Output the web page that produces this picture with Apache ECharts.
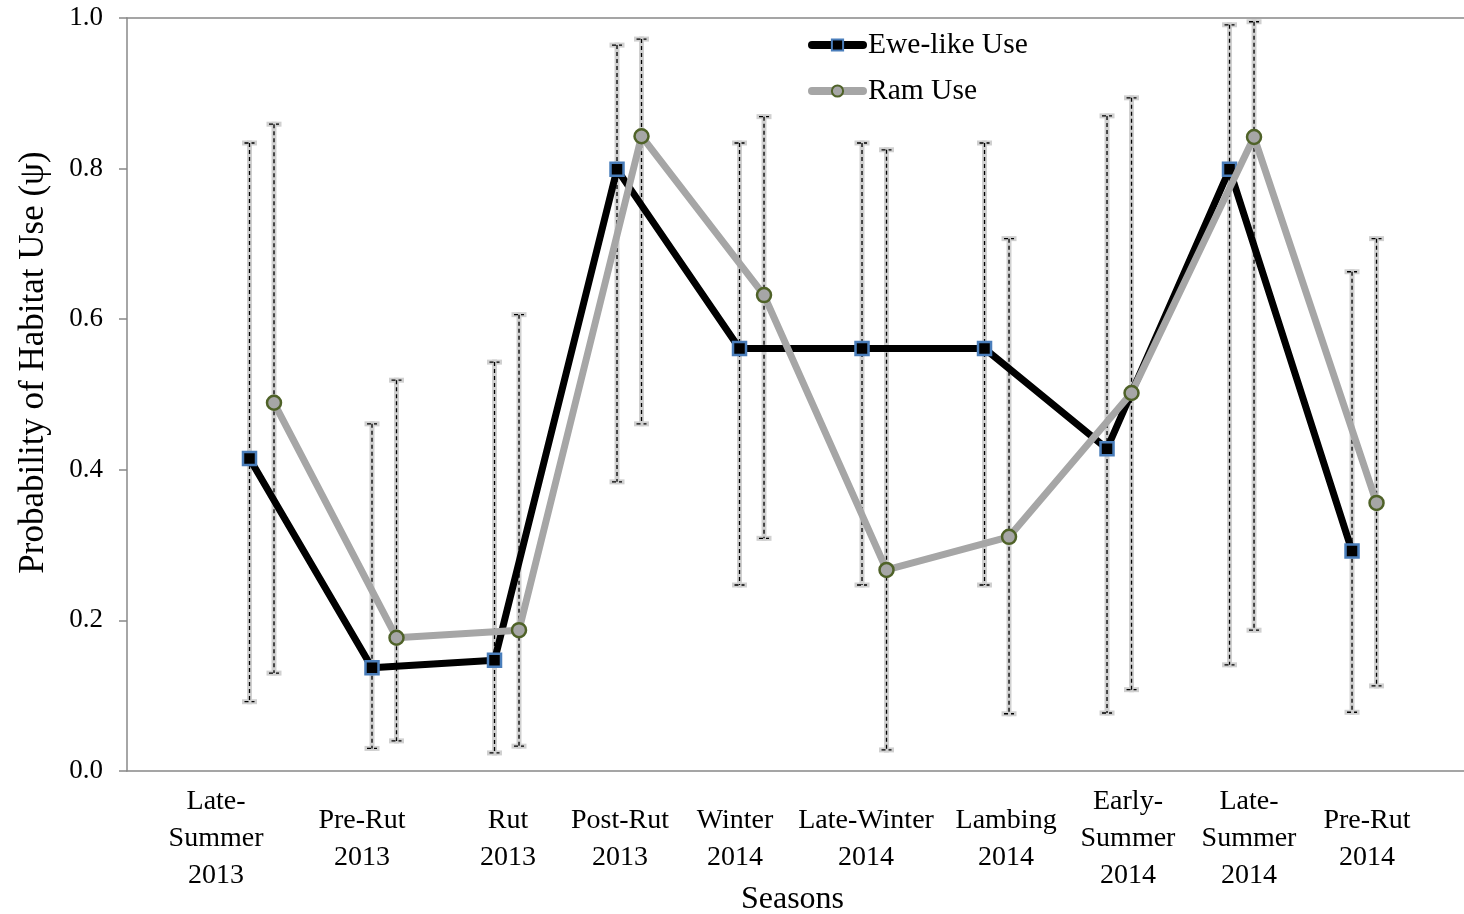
<!DOCTYPE html>
<html><head><meta charset="utf-8">
<script src="https://cdn.jsdelivr.net/npm/echarts@6/dist/echarts.min.js"></script>
<style>html,body{margin:0;padding:0;background:#fff}#c{width:1464px;height:914px}</style>
</head><body><div id="c"></div>
<script>
const seasons = ['Late-\nSummer\n2013','Pre-Rut\n2013','Rut\n2013','Post-Rut\n2013','Winter\n2014','Late-Winter\n2014','Lambing\n2014','Early-\nSummer\n2014','Late-\nSummer\n2014','Pre-Rut\n2014'];
const labelPos = [0.727,1.918,3.11,4.024,4.963,6.033,7.176,8.171,9.159,10.122];
const ewePos = [1,2,3,4,5,6,7,8,9,10];
const ramPos = [1.2,2.2,3.2,4.2,5.2,6.2,7.2,8.2,9.2,10.2];
const eweUse = [0.415,0.137,0.147,0.799,0.561,0.561,0.561,0.428,0.799,0.292];
const eweUpper = [0.834,0.461,0.543,0.964,0.834,0.834,0.834,0.870,0.991,0.663];
const eweLower = [0.092,0.030,0.024,0.384,0.247,0.247,0.247,0.077,0.141,0.078];
const ramUse = [0.489,0.177,0.187,0.843,0.632,0.267,0.311,0.502,0.842,0.356];
const ramUpper = [0.859,0.519,0.606,0.972,0.869,0.825,0.707,0.894,0.995,0.707];
const ramLower = [0.130,0.040,0.033,0.461,0.309,0.028,0.076,0.108,0.187,0.113];

const FONT = 'Liberation Serif';
const X_MAX = 10.914;
const chart = echarts.init(document.getElementById('c'));

function errRender(params, api) {
  const x = api.value(0), lo = api.value(1), hi = api.value(2);
  const pHi = api.coord([x, hi]), pLo = api.coord([x, lo]);
  const cap = 5;
  const segs = [
    [pHi[0], pHi[1], pLo[0], pLo[1]],
    [pHi[0] - cap, pHi[1], pHi[0] + cap, pHi[1]],
    [pLo[0] - cap, pLo[1], pLo[0] + cap, pLo[1]]
  ];
  const children = [];
  segs.forEach(s => children.push({type: 'line', shape: {x1: s[0], y1: s[1], x2: s[2], y2: s[3]},
    style: {stroke: '#d0d0d0', lineWidth: 5, lineCap: 'square'}}));
  segs.forEach(s => children.push({type: 'line', shape: {x1: s[0], y1: s[1], x2: s[2], y2: s[3]},
    style: {stroke: '#000', lineWidth: 1.3, lineDash: [4, 3]}}));
  return {type: 'group', children};
}

const zip = (xs, ys) => xs.map((x, i) => [x, ys[i]]);
const zip3 = (xs, a, b) => xs.map((x, i) => [x, a[i], b[i]]);

chart.setOption({
  animation: false,
  backgroundColor: '#fff',
  grid: {left: 127, right: 0, top: 18, bottom: 143, outerBoundsMode: 'none', containLabel: false},
  legend: {
    orient: 'vertical', left: 803, top: 25, itemWidth: 51, itemHeight: 14, itemGap: 16,
    textStyle: {fontFamily: FONT, fontSize: 29.5, color: '#000'},
    lineStyle: {width: 8, cap: 'round'},
    data: ['Ewe-like Use', 'Ram Use']
  },
  xAxis: [{
    type: 'value', min: 0, max: X_MAX,
    name: 'Seasons', nameLocation: 'middle', nameGap: 113,
    nameTextStyle: {fontFamily: FONT, fontSize: 32, color: '#000', padding: [0, 6, 0, 0]},
    splitLine: {show: false},
    axisLine: {lineStyle: {color: '#888', width: 1.5}},
    axisTick: {show: false},
    axisLabel: {show: false}
  }, {
    type: 'value', min: 0, max: X_MAX, position: 'top',
    splitLine: {show: false},
    axisLine: {show: true, lineStyle: {color: '#888', width: 1.5}},
    axisTick: {show: false},
    axisLabel: {show: false}
  }],
  yAxis: {
    type: 'value', min: 0, max: 1, interval: 0.2,
    name: 'Probability of Habitat Use (ψ)', nameLocation: 'middle', nameGap: 76,
    nameTextStyle: {fontFamily: FONT, fontSize: 35, color: '#000', padding: [0, 0, 0, 64]},
    splitLine: {show: false},
    axisLine: {show: true, lineStyle: {color: '#888', width: 1.5}},
    axisTick: {show: true, inside: false, length: 8, lineStyle: {color: '#888', width: 1.5}},
    axisLabel: {formatter: v => v.toFixed(1), fontFamily: FONT, fontSize: 27, color: '#000', margin: 24}
  },
  series: [
    {type: 'custom', renderItem: errRender, data: zip3(ewePos, eweLower, eweUpper),
     encode: {x: 0, y: [1, 2]}, z: 1, silent: true},
    {type: 'custom', renderItem: errRender, data: zip3(ramPos, ramLower, ramUpper),
     encode: {x: 0, y: [1, 2]}, z: 1, silent: true},
    {name: 'Ewe-like Use', type: 'line', data: zip(ewePos, eweUse), z: 3,
     symbol: 'rect', symbolSize: 13,
     lineStyle: {color: '#000', width: 7},
     itemStyle: {color: '#000', borderColor: '#4a7ebb', borderWidth: 2.5}},
    {name: 'Ram Use', type: 'line', data: zip(ramPos, ramUse), z: 4,
     symbol: 'circle', symbolSize: 14,
     lineStyle: {color: '#a6a6a6', width: 7},
     itemStyle: {color: '#a6a6a6', borderColor: '#4f6228', borderWidth: 2.5}}
  ]
});

// Season labels placed through the x scale of the chart
const axisY = chart.convertToPixel({yAxisIndex: 0}, 0);
chart.setOption({
  graphic: seasons.map((s, i) => ({
    type: 'text',
    x: chart.convertToPixel({xAxisIndex: 0}, labelPos[i]),
    y: axisY + 68,
    style: {text: s, fontFamily: FONT, fontSize: 28, lineHeight: 37, fill: '#000',
            align: 'center', verticalAlign: 'middle'}
  }))
});
</script></body></html>
